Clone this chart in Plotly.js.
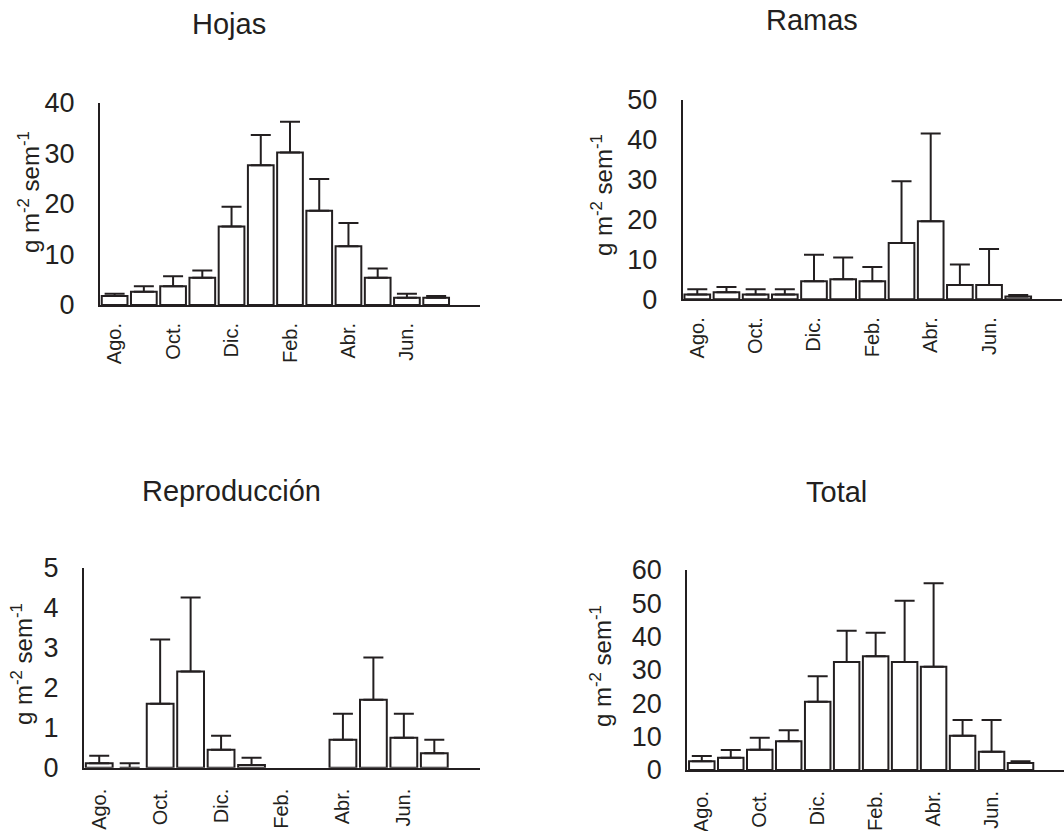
<!DOCTYPE html>
<html>
<head>
<meta charset="utf-8">
<script src="https://cdn.plot.ly/plotly-3.0.1.min.js"></script>
<style>
html,body{margin:0;padding:0;background:#fff;}
#chart{width:1064px;height:831px;}
</style>
</head>
<body>
<div id="chart"></div>
<script>
// ---- data ----
const months = ["Ago.", "Sep.", "Oct.", "Nov.", "Dic.", "Ene.", "Feb.", "Mar.", "Abr.", "May.", "Jun.", "Jul."];
const tickMonths = ["Ago.", "Oct.", "Dic.", "Feb.", "Abr.", "Jun."];
const panelTitles = ["Hojas", "Ramas", "Reproducción", "Total"];
const yTitle = "g m<sup>-2</sup> sem<sup>-1</sup>";

const hojas    = [1.8, 2.6, 3.7, 5.4, 15.5, 27.6, 30.1, 18.6, 11.6, 5.4, 1.45, 1.45];
const hojasErr = [0.4, 1.1, 2.0, 1.4, 3.9, 6.0, 6.1, 6.3, 4.6, 1.8, 0.75, 0.35];

const ramas    = [1.2, 1.8, 1.2, 1.2, 4.5, 5.0, 4.5, 14.1, 19.6, 3.6, 3.6, 0.7];
const ramasErr = [1.3, 1.3, 1.3, 1.3, 6.7, 5.5, 3.6, 15.5, 22.0, 5.1, 9.0, 0.4];

const repro    = [0.11, 0.0, 1.6, 2.4, 0.45, 0.07, null, null, 0.7, 1.7, 0.75, 0.36];
const reproErr = [0.19, 0.11, 1.6, 1.85, 0.35, 0.18, null, null, 0.65, 1.05, 0.6, 0.34];

const total    = [2.6, 3.7, 6.1, 8.6, 20.5, 32.4, 34.1, 32.4, 31.0, 10.3, 5.5, 2.1];
const totalErr = [1.6, 2.3, 3.6, 3.3, 7.6, 9.4, 7.1, 18.4, 25.0, 4.7, 9.5, 0.5];

const yMax  = [40, 50, 5, 60];
const yStep = [10, 10, 1, 10];

// ---- styling / layout ----
const W = 1064, H = 831;
const ink = "#231f20";
const font = "Liberation Sans, Arial, Helvetica, sans-serif";

// plot areas in pixels: [left, right, top, bottom]
const boxes = [
  [100, 480, 102.5, 305],
  [682.7, 1062, 100, 299.3],
  [84, 480, 567.5, 767.7],
  [687.3, 1064, 570, 770]
];
const titlePos = [[229, 24], [812, 20], [231, 491], [836, 492]];
const yTitlePos = [[29, 192], [602, 195], [22, 664], [601, 666]];
const xStandoff = [8, 8, 11, 11];

const series = [[hojas, hojasErr], [ramas, ramasErr], [repro, reproErr], [total, totalErr]];

const data = [];
const layout = {
  width: W, height: H,
  margin: {l: 0, r: 0, t: 0, b: 0},
  paper_bgcolor: "#fff", plot_bgcolor: "rgba(0,0,0,0)",
  showlegend: false,
  bargap: 0.12,
  font: {family: font, color: ink},
  annotations: []
};

series.forEach((s, i) => {
  const n = i === 0 ? "" : String(i + 1);
  data.push({
    type: "bar",
    x: months,
    y: s[0],
    xaxis: "x" + n, yaxis: "y" + n,
    marker: {color: "#ffffff", line: {color: ink, width: s[0].map(v => v > 0 ? 2 : 0)}},
    error_y: {
      type: "data", symmetric: false,
      array: s[1].map(e => e === null ? undefined : e),
      arrayminus: s[1].map(e => e === null ? undefined : 0),
      color: ink, thickness: 2, width: 10
    },
    hoverinfo: "none"
  });
  const b = boxes[i];
  layout["xaxis" + n] = {
    domain: [b[0] / W, b[1] / W],
    anchor: "y" + n,
    type: "category",
    categoryorder: "array", categoryarray: months,
    range: [-0.5, 12.5],
    showline: true, linecolor: ink, linewidth: 2,
    ticks: "", showgrid: false, zeroline: false,
    tickmode: "array", tickvals: tickMonths, ticktext: tickMonths,
    tickangle: -90,
    ticklabelstandoff: xStandoff[i],
    tickfont: {family: font, size: 20, color: ink},
    fixedrange: true
  };
  layout["yaxis" + n] = {
    domain: [1 - b[3] / H, 1 - b[2] / H],
    anchor: "x" + n,
    range: [0, yMax[i]],
    dtick: yStep[i], tick0: 0,
    showline: true, linecolor: ink, linewidth: 2,
    ticks: "", showgrid: false, zeroline: false,
    ticklabelstandoff: 18,
    tickfont: {family: font, size: 27, color: ink},
    fixedrange: true
  };
  layout.annotations.push({
    xref: "paper", yref: "paper",
    x: titlePos[i][0] / W, y: 1 - titlePos[i][1] / H,
    xanchor: "center", yanchor: "middle",
    text: panelTitles[i], showarrow: false,
    font: {family: font, size: 29, color: ink}
  });
  layout.annotations.push({
    xref: "paper", yref: "paper",
    x: yTitlePos[i][0] / W, y: 1 - yTitlePos[i][1] / H,
    xanchor: "center", yanchor: "middle",
    text: yTitle, textangle: -90, showarrow: false,
    font: {family: font, size: 24, color: ink}
  });
});

Plotly.newPlot("chart", data, layout, {displayModeBar: false, staticPlot: true});
</script>
</body>
</html>
